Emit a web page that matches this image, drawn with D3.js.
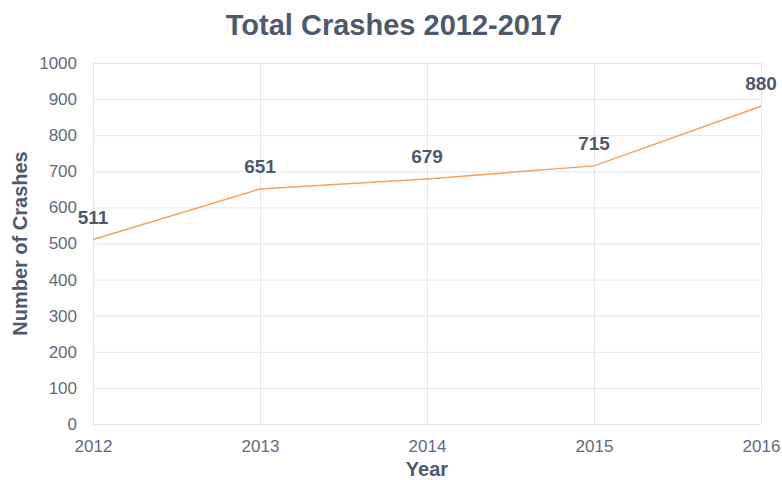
<!DOCTYPE html>
<html>
<head>
<meta charset="utf-8">
<script src="https://cdn.jsdelivr.net/npm/d3@7"></script>
<style>
  body { margin: 0; background: #fff; }
  text { font-family: 'Liberation Sans', Arial, sans-serif; }
  .tick text { fill: #5f6b7d; font-size: 17px; }
  .tick line { stroke: #e3e7ee; }
</style>
</head>
<body>
<svg id="chart" width="782" height="480"></svg>
<script>
  const titleText = 'Total Crashes 2012-2017';
  const years = ['2012', '2013', '2014', '2015', '2016'];
  const crashes = [511, 651, 679, 715, 880];
  const yTicks = [0, 100, 200, 300, 400, 500, 600, 700, 800, 900, 1000];

  const svg = d3.select('#chart');
  const width = +svg.attr('width');
  const height = +svg.attr('height');
  const margin = { top: 63, right: 21, bottom: 56, left: 93 };
  const innerWidth = width - margin.left - margin.right;
  const innerHeight = height - margin.top - margin.bottom;

  const data = years.map((y, i) => ({ year: y, value: crashes[i] }));

  const xScale = d3.scalePoint()
    .domain(years)
    .range([0, innerWidth]);

  const yScale = d3.scaleLinear()
    .domain([0, 1000])
    .range([innerHeight, 0]);

  const g = svg.append('g')
    .attr('transform', `translate(${margin.left},${margin.top})`);

  const yAxisG = g.append('g')
    .call(d3.axisLeft(yScale).tickValues(yTicks).tickFormat(d3.format('d'))
      .tickSize(-innerWidth).tickPadding(16));
  yAxisG.select('.domain').remove();

  const xAxisG = g.append('g')
    .attr('transform', `translate(0,${innerHeight})`)
    .call(d3.axisBottom(xScale).tickSize(-innerHeight).tickPadding(16));
  xAxisG.select('.domain').remove();

  g.append('path')
    .datum(data)
    .attr('fill', 'none')
    .attr('stroke', '#f5a25d')
    .attr('stroke-width', 1.5)
    .attr('d', d3.line()
      .x(d => xScale(d.year))
      .y(d => yScale(d.value)));

  g.selectAll('.label').data(data)
    .enter().append('text')
      .attr('class', 'label')
      .attr('x', d => xScale(d.year))
      .attr('y', d => yScale(d.value) - 16)
      .attr('text-anchor', 'middle')
      .attr('fill', '#4d5a6c')
      .attr('font-size', '19px')
      .attr('font-weight', 'bold')
      .text(d => d.value);

  svg.append('text')
    .attr('x', 394)
    .attr('y', 35)
    .attr('text-anchor', 'middle')
    .attr('fill', '#4d5a6c')
    .attr('font-size', '29px')
    .attr('font-weight', 'bold')
    .text(titleText);

  svg.append('text')
    .attr('transform', `translate(27,${margin.top + innerHeight / 2}) rotate(-90)`)
    .attr('text-anchor', 'middle')
    .attr('fill', '#4d5a6c')
    .attr('font-size', '20px')
    .attr('font-weight', 'bold')
    .text('Number of Crashes');

  svg.append('text')
    .attr('x', margin.left + innerWidth / 2)
    .attr('y', 476)
    .attr('text-anchor', 'middle')
    .attr('fill', '#4d5a6c')
    .attr('font-size', '20px')
    .attr('font-weight', 'bold')
    .text('Year');
</script>
</body>
</html>
